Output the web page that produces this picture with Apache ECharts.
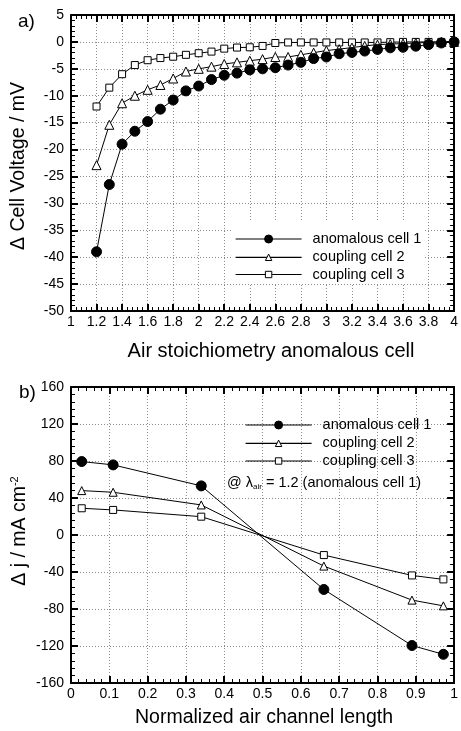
<!DOCTYPE html>
<html>
<head>
<meta charset="utf-8">
<script src="https://cdn.jsdelivr.net/npm/echarts@6/dist/echarts.min.js"></script>
<style>
  html, body { margin: 0; padding: 0; background: #fff; }
  #chart { width: 461px; height: 731px; }
</style>
</head>
<body>
<div id="chart"></div>
<script>
// ---- Panel a: cell voltage change vs. air stoichiometry of the anomalous cell ----
const stoichiometry = [1.2, 1.3, 1.4, 1.5, 1.6, 1.7, 1.8, 1.9, 2.0, 2.1, 2.2, 2.3, 2.4, 2.5, 2.6,
                       2.7, 2.8, 2.9, 3.0, 3.1, 3.2, 3.3, 3.4, 3.5, 3.6, 3.7, 3.8, 3.9, 4.0];
const anomalousCellVoltage = [-39.0, -26.5, -19.0, -16.6, -14.8, -12.5, -10.8, -9.1, -8.2, -7.0,
                              -6.2, -5.8, -5.2, -5.0, -4.8, -4.3, -3.8, -3.1, -2.8, -2.2,
                              -1.95, -1.7, -1.4, -1.1, -1.0, -0.8, -0.5, -0.2, 0.0];
const couplingCell2Voltage = [-22.9, -15.4, -11.4, -10.0, -8.9, -8.0, -6.8, -5.5, -5.0, -4.6,
                              -4.1, -3.8, -3.5, -3.2, -2.8, -2.8, -2.4, -2.0, -1.6, -1.35,
                              -1.05, -0.75, -0.5, -0.4, -0.3, -0.2, -0.1, 0.0, 0.0];
const couplingCell3Voltage = [-12.0, -8.5, -6.0, -4.3, -3.4, -3.0, -2.75, -2.4, -2.1, -1.8,
                              -1.25, -1.05, -1.0, -0.75, -0.2, -0.1, -0.1, -0.1, -0.1, -0.1,
                              -0.1, -0.1, -0.1, -0.05, 0.0, 0.0, 0.0, 0.0, 0.0];
const stoichTicks = { min: 1, max: 4, interval: 0.2 };
const voltageTicks = { min: -50, max: 5, interval: 5 };

// ---- Panel b: current density change along the air channel ----
const channelPosition = [0.028, 0.11, 0.34, 0.66, 0.89, 0.972];
const anomalousCellCurrent = [79.4, 75.8, 53.1, -58.9, -119.5, -129.0];
const couplingCell2Current = [48.0, 46.2, 32.5, -33.6, -70.4, -76.6];
const couplingCell3Current = [28.9, 27.1, 19.8, -21.7, -43.7, -48.0];
const positionTicks = { min: 0, max: 1, interval: 0.1 };
const currentTicks = { min: -160, max: 160, interval: 40 };

const seriesNames = ['anomalous cell 1', 'coupling cell 2', 'coupling cell 3'];

const FONT = '"Liberation Sans", Arial, Helvetica, sans-serif';

const pairs = (xs, ys) => xs.map((x, i) => [x, ys[i]]);

// A boxed frame: bottom/left axes carry labels and grid, top/right mirror the ticks.
function frameAxis(gridIndex, ticks, position, labelled, labelMargin) {
  return {
    type: 'value',
    gridIndex,
    position,
    min: ticks.min,
    max: ticks.max,
    interval: ticks.interval,
    axisLine: { show: true, onZero: false, lineStyle: { color: '#000', width: 2 } },
    axisTick: { show: true, inside: true, length: 7, lineStyle: { color: '#000', width: 2 } },
    minorTick: { show: true, splitNumber: 5, length: 4, lineStyle: { color: '#000', width: 1 } },
    splitLine: labelled
      ? { show: true, lineStyle: { color: '#8c8c8c', width: 1, type: [1, 2] } }
      : { show: false },
    axisLabel: {
      show: labelled,
      color: '#000',
      fontFamily: FONT,
      fontSize: 14,
      margin: labelMargin,
      hideOverlap: false,
      showMinLabel: true,
      showMaxLabel: true
    }
  };
}

const styles = [
  { symbol: 'circle', color: '#000', border: '#000' },
  { symbol: 'triangle', color: '#fff', border: '#000' },
  { symbol: 'rect', color: '#fff', border: '#000' }
];

function lineSeries(name, idx, data, axisIdx, size) {
  const s = styles[idx];
  return {
    name,
    type: 'line',
    xAxisIndex: axisIdx,
    yAxisIndex: axisIdx,
    data,
    symbol: s.symbol,
    symbolSize: size,
    showAllSymbol: true,
    lineStyle: { color: '#000', width: 1 },
    itemStyle: { color: s.color, borderColor: s.border, borderWidth: 1 },
    emphasis: { disabled: true },
    animation: false,
    z: 5 - idx
  };
}

// One legend block per entry so each row sits exactly where wanted.
function legendRow(name, idx, left, centerY, iconH, key) {
  return {
    id: key + idx,
    data: [name],
    left,
    top: centerY - 8,
    orient: 'vertical',
    padding: 0,
    itemWidth: 66,
    itemHeight: iconH,
    selectedMode: false,
    lineStyle: { width: 1.2 },
    itemStyle: { borderWidth: 1 },
    textStyle: { fontFamily: FONT, fontSize: 14.5, color: '#000', lineHeight: 16, padding: [0, 0, 0, 6] }
  };
}

const chart = echarts.init(document.getElementById('chart'), null, { renderer: 'canvas' });

chart.setOption({
  backgroundColor: '#fff',
  animation: false,
  grid: [
    { left: 71, top: 15, width: 385, height: 296, containLabel: false },
    { left: 71, top: 387, width: 385, height: 296, containLabel: false }
  ],
  xAxis: [
    frameAxis(0, stoichTicks, 'bottom', true, 4),
    frameAxis(0, stoichTicks, 'top', false, 0),
    frameAxis(1, positionTicks, 'bottom', true, 4),
    frameAxis(1, positionTicks, 'top', false, 0)
  ],
  yAxis: [
    frameAxis(0, voltageTicks, 'left', true, 7),
    frameAxis(0, voltageTicks, 'right', false, 0),
    frameAxis(1, currentTicks, 'left', true, 7),
    frameAxis(1, currentTicks, 'right', false, 0)
  ],
  legend: [
    legendRow(seriesNames[0], 0, 235, 239, 10, 'a'),
    legendRow(seriesNames[1], 1, 235, 257.3, 8, 'a'),
    legendRow(seriesNames[2], 2, 235, 274.5, 8, 'a'),
    legendRow(seriesNames[0], 0, 245, 425, 10, 'b'),
    legendRow(seriesNames[1], 1, 245, 443.3, 8, 'b'),
    legendRow(seriesNames[2], 2, 245, 461, 8, 'b')
  ],
  series: [
    lineSeries(seriesNames[0], 0, pairs(stoichiometry, anomalousCellVoltage), 0, 10),
    lineSeries(seriesNames[1], 1, pairs(stoichiometry, couplingCell2Voltage), 0, 9),
    lineSeries(seriesNames[2], 2, pairs(stoichiometry, couplingCell3Voltage), 0, 7),
    lineSeries(seriesNames[0], 0, pairs(channelPosition, anomalousCellCurrent), 2, 10),
    lineSeries(seriesNames[1], 1, pairs(channelPosition, couplingCell2Current), 2, 8),
    lineSeries(seriesNames[2], 2, pairs(channelPosition, couplingCell3Current), 2, 7)
  ],
  graphic: [
    // white box behind the panel-a legend
    { type: 'rect', z: 3, shape: { x: 232, y: 222, width: 191, height: 61 }, style: { fill: '#fff' } },
    { type: 'text', z: 10, x: 18, y: 22,
      style: { text: 'a)', font: '19px ' + FONT, fill: '#000', verticalAlign: 'middle' } },
    { type: 'text', z: 10, x: 19, y: 393,
      style: { text: 'b)', font: '19px ' + FONT, fill: '#000', verticalAlign: 'middle' } },
    // axis titles
    { type: 'text', z: 10, x: 271, y: 351,
      style: { text: 'Air stoichiometry anomalous cell', font: '20px ' + FONT, fill: '#000',
               align: 'center', verticalAlign: 'middle' } },
    { type: 'text', z: 10, x: 264, y: 718,
      style: { text: 'Normalized air channel length', font: '19.5px ' + FONT, fill: '#000',
               align: 'center', verticalAlign: 'middle' } },
    { type: 'text', z: 10, x: 19, y: 166, rotation: Math.PI / 2,
      style: { text: '\u0394 Cell Voltage / mV', font: '19.5px ' + FONT, fill: '#000',
               align: 'center', verticalAlign: 'middle' } },
    { type: 'text', z: 10, x: 20, y: 531, rotation: Math.PI / 2,
      style: {
        text: '{m|\u0394 j / mA cm}{sup|-2}',
        align: 'center', verticalAlign: 'middle',
        rich: {
          m: { fontFamily: FONT, fontSize: 19.5, lineHeight: 22, color: '#000' },
          sup: { fontFamily: FONT, fontSize: 11, lineHeight: 10, verticalAlign: 'top', color: '#000' }
        }
      } },
    // operating point note
    { type: 'text', z: 10, x: 227, y: 483,
      style: {
        text: '{m|@ \u03bb}{s|air}{m| = 1.2 (anomalous cell 1)}',
        verticalAlign: 'middle',
        rich: {
          m: { fontFamily: FONT, fontSize: 14.5, lineHeight: 16, color: '#000' },
          s: { fontFamily: FONT, fontSize: 8, lineHeight: 8, verticalAlign: 'bottom', color: '#000' }
        }
      } }
  ]
});
</script>
</body>
</html>
